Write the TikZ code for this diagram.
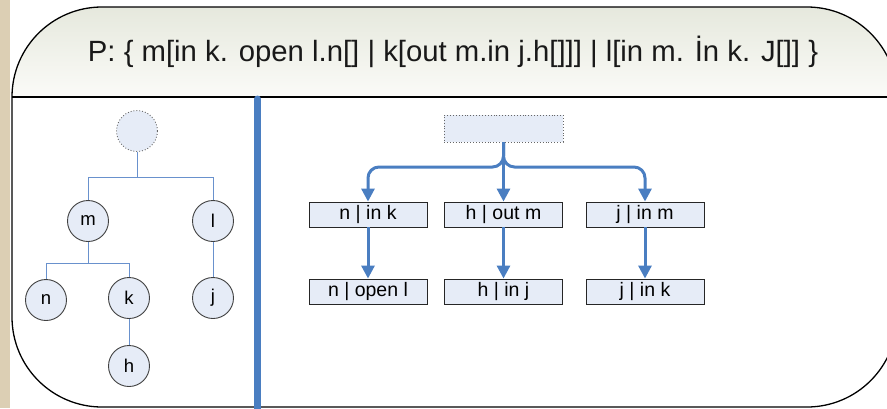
\documentclass[tikz,border=0pt]{standalone}
\usepackage{fontspec}
\setmainfont{Liberation Sans}
\usetikzlibrary{arrows.meta}
\definecolor{bluefill}{RGB}{230,236,247}
\definecolor{flowblue}{RGB}{74,126,193}
\definecolor{treeline}{RGB}{105,145,205}
\definecolor{hdrtop}{RGB}{228,231,219}
\definecolor{hdrbot}{RGB}{251,251,248}
\definecolor{tanstrip}{RGB}{220,207,180}
\begin{document}
\begin{tikzpicture}[x=1pt,y=-1pt,
  tnode/.style={circle, draw=black!75, line width=0.9pt, fill=bluefill,
    minimum size=41pt, inner sep=0pt, font=\fontsize{18.5}{18.5}\selectfont},
  hole/.style={tnode, draw=black!60, dotted},
  abox/.style={draw=black!85, line width=0.9pt, fill=bluefill, minimum width=118pt,
    minimum height=25pt, inner sep=0pt, font=\fontsize{19.5}{19.5}\selectfont},
  slot/.style={abox, draw=black!60, dotted, minimum width=119pt, minimum height=27pt},
  tlink/.style={draw=treeline, line width=1pt},
  flow/.style={draw=flowblue, line width=3pt, -{Triangle[width=13pt,length=13pt]}},
]
\useasboundingbox (0,0) rectangle (887,408);
\clip (0,0) rectangle (887,408);

% paper strip on the left
\fill[tanstrip] (0,0) rectangle (10,408);

% header band with its soft gradient
\begin{scope}
  \clip[rounded corners=90pt] (12,7) rectangle (897,407);
  \shade[top color=hdrtop, bottom color=hdrbot] (0,0) rectangle (900,97);
\end{scope}
\draw[line width=1.3pt, rounded corners=90pt] (12,7) rectangle (897,407);
\draw[line width=1.5pt] (12,97) -- (897,97);

\node[font=\fontsize{29.3}{30}\selectfont, text=black!90] (title) at (453,52)
  {P: \{ m[in k. open l.n[] | k[out m.in j.h[]]] | l[in m. İn k. J[]] \}};

% separator between the two panels
\draw[flowblue, line width=7pt, line cap=round] (257.5,99) -- (257.5,420);

% left panel: tree
\node[hole] (root) at (137,131) {};
\node[tnode] (m) at (88,221) {m};
\node[tnode] (l) at (213,221) {l};
\node[tnode] (n) at (46,300) {n};
\node[tnode] (k) at (129,298) {k};
\node[tnode] (j) at (213,298) {j};
\node[tnode] (h) at (129,366) {h};

\coordinate (fork1) at (137,177);
\coordinate (fork2) at (88,263);
\draw[tlink] (root.south) -- (fork1) -| (m.north);
\draw[tlink] (fork1) -| (l.north);
\draw[tlink] (m.south) -- (fork2) -| (n.north);
\draw[tlink] (fork2) -| (k.north);
\draw[tlink] (k.south) -- (h.north);
\draw[tlink] (l.south) -- (j.north);

% right panel: reduction steps
\node[slot] (top) at (503.5,128.5) {};
\node[abox] (a1) at (368,214.5) {n | in k};
\node[abox] (a2) at (503.5,214.5) {h | out m};
\node[abox] (a3) at (645,214.5) {j | in m};
\node[abox] (b1) at (368,291.5) {n | open l};
\node[abox] (b2) at (503.5,291.5) {h | in j};
\node[abox] (b3) at (645,291.5) {j | in k};

\coordinate (jl) at (368,167);
\coordinate (jr) at (645,167);
\draw[flow, rounded corners=11pt] (top.south) |- (jl) -- (a1.north);
\draw[flow, rounded corners=11pt] (top.south) |- (jr) -- (a3.north);
\draw[flow] (top.south) -- (a2.north);
\draw[flow] (a1.south) -- (b1.north);
\draw[flow] (a2.south) -- (b2.north);
\draw[flow] (a3.south) -- (b3.north);
\end{tikzpicture}
\end{document}
